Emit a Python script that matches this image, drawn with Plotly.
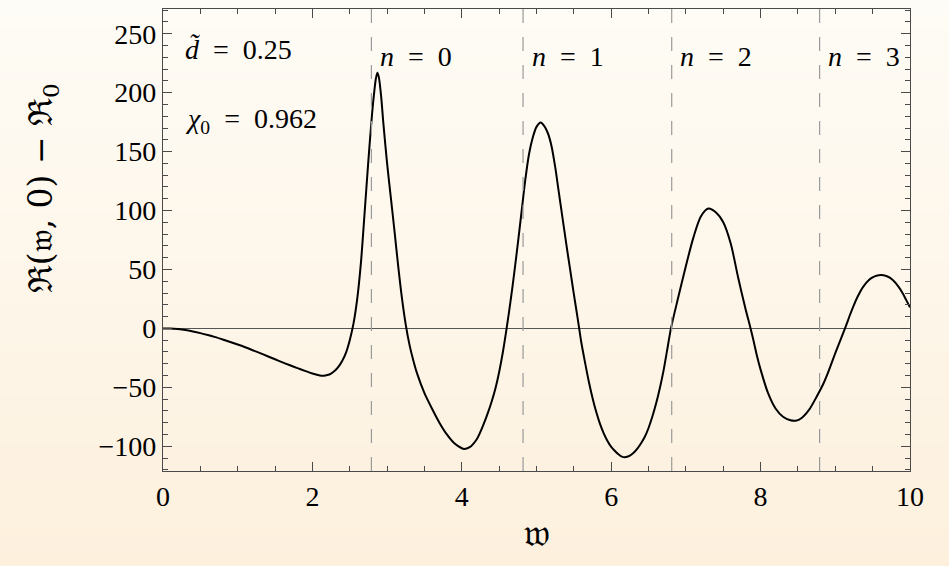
import plotly.graph_objects as go

# Response curve R(w,0) - R0, sampled along w
w_vals = [0.0, 0.1, 0.2, 0.3, 0.4, 0.5, 0.6, 0.7, 0.8, 0.9, 1.0, 1.1, 1.2, 1.3,
          1.4, 1.5, 1.6, 1.7, 1.8, 1.9, 2.0, 2.1, 2.15, 2.2, 2.25, 2.3, 2.35,
          2.4, 2.45, 2.5, 2.55, 2.6, 2.65, 2.7, 2.75, 2.8, 2.83, 2.85, 2.87,
          2.89, 2.92, 2.95, 3.0, 3.05, 3.1, 3.15, 3.2, 3.25, 3.3, 3.35, 3.4,
          3.5, 3.6, 3.7, 3.8, 3.9, 4.0, 4.03, 4.1, 4.2, 4.3, 4.35, 4.4, 4.45,
          4.5, 4.55, 4.6, 4.65, 4.7, 4.75, 4.8, 4.85, 4.9, 4.95, 5.0, 5.056,
          5.1, 5.15, 5.2, 5.25, 5.3, 5.35, 5.4, 5.45, 5.5, 5.55, 5.6, 5.65,
          5.7, 5.75, 5.8, 5.85, 5.9, 5.95, 6.0, 6.05, 6.1, 6.15, 6.2, 6.25,
          6.3, 6.35, 6.4, 6.45, 6.5, 6.55, 6.6, 6.65, 6.7, 6.75, 6.8, 6.9, 7.0,
          7.1, 7.2, 7.3, 7.4, 7.5, 7.6, 7.7, 7.8, 7.85, 7.9, 7.95, 8.0, 8.1,
          8.2, 8.3, 8.4, 8.47, 8.55, 8.65, 8.75, 8.84, 8.9, 9.0, 9.13, 9.2,
          9.25, 9.3, 9.37, 9.45, 9.5, 9.55, 9.62, 9.7, 9.77, 9.85, 9.9, 9.95,
          10.0]
r_vals = [0.0, -0.1, -0.6, -1.4, -2.6, -4.0, -5.6, -7.4, -9.4, -11.5, -13.7,
          -16.0, -18.5, -21.0, -23.6, -26.2, -28.8, -31.3, -33.7, -36.0, -38.3,
          -40.0, -40.2, -39.6, -38.3, -36.0, -32.5, -27.5, -20.5, -10.0, 4.0,
          25.0, 56.0, 99.0, 143.0, 183.0, 202.0, 212.0, 217.0, 213.0, 197.0,
          174.0, 140.0, 111.0, 82.0, 52.0, 25.0, 3.0, -14.0, -27.0, -38.0,
          -55.0, -68.0, -80.0, -90.0, -97.5, -101.7, -102.3, -101.0, -94.0,
          -80.0, -71.5, -62.0, -51.0, -37.0, -20.0, 0.0, 22.0, 46.0, 72.0,
          99.0, 126.0, 148.0, 162.0, 171.0, 174.6, 172.0, 166.0, 155.0, 137.0,
          115.0, 93.0, 71.0, 50.0, 29.0, 9.0, -12.0, -29.0, -45.0, -59.0,
          -71.0, -81.0, -89.0, -95.5, -100.5, -104.0, -107.0, -109.0, -109.2,
          -108.0, -105.5, -102.0, -97.5, -92.0, -84.5, -75.0, -64.0, -51.0,
          -36.0, -18.0, 0.0, 27.0, 53.0, 77.0, 95.0, 101.7, 98.5, 90.0, 72.0,
          43.0, 16.0, 4.0, -9.0, -23.0, -35.0, -55.0, -68.0, -75.0, -78.0,
          -78.3, -76.0, -69.0, -58.0, -47.0, -38.0, -21.0, 0.0, 12.0, 20.0,
          27.0, 35.0, 41.0, 43.2, 44.6, 45.2, 44.0, 41.0, 35.0, 30.0, 24.0,
          17.8]

# Mode thresholds (dashed markers) and their labels
mode_w = [2.79, 4.82, 6.81, 8.79]
mode_labels = ["<i>n</i>  =  0", "<i>n</i>  =  1", "<i>n</i>  =  2",
               "<i>n</i>  =  3"]

x_ticks = [0, 2, 4, 6, 8, 10]
y_ticks = [-100, -50, 0, 50, 100, 150, 200, 250]

serif = "Liberation Serif, Times New Roman, serif"
fraktur = "DejaVu Serif, serif"

fig = go.Figure()
fig.add_trace(go.Scatter(
    x=w_vals, y=r_vals, mode="lines",
    line=dict(color="black", width=2, shape="spline", smoothing=0.8),
    hoverinfo="skip", showlegend=False,
))

shapes = []
# vertical warm gradient behind everything
n_strips = 80
top_c = (254, 252, 246)
bot_c = (253, 240, 221)
y_lo, y_hi = -95 / 462, 1 + 9 / 462
for i in range(n_strips):
    t = i / (n_strips - 1)
    c = tuple(round(top_c[k] + (bot_c[k] - top_c[k]) * t) for k in range(3))
    y1 = y_hi - (y_hi - y_lo) * i / n_strips
    y0 = y_hi - (y_hi - y_lo) * (i + 1) / n_strips
    shapes.append(dict(type="rect", xref="paper", yref="paper",
                       x0=-163 / 747, x1=1 + 39 / 747, y0=y0 - 0.002, y1=y1 + 0.002,
                       fillcolor="rgb(%d,%d,%d)" % c, line=dict(width=0),
                       layer="below"))

for wv in mode_w:
    shapes.append(dict(type="line", xref="x", yref="y domain", x0=wv, x1=wv,
                       y0=0, y1=1, line=dict(color="#9a9a9a", width=1.2,
                                             dash="14px,14px"),
                       layer="above"))

label_font = dict(family=serif, size=28, color="black")
annotations = [
    dict(x=0.27, y=237, xref="x", yref="y", xanchor="left", yanchor="middle",
         text="<i>d̃</i>  =  0.25", showarrow=False, font=label_font),
    dict(x=0.27, y=176, xref="x", yref="y", xanchor="left", yanchor="middle",
         text="<i>χ</i><sub>0</sub>  =  0.962", showarrow=False,
         font=label_font),
    # y-axis title
    dict(x=-0.162, y=0.612, xref="paper", yref="paper", xanchor="center",
         yanchor="middle", textangle=-90, showarrow=False,
         text="ℜ(𝔴, 0) − ℜ<sub>0</sub>",
         font=dict(family=fraktur, size=33, color="black")),
]
for wv, lab in zip(mode_w, mode_labels):
    annotations.append(dict(x=wv + 0.09, y=231, xref="x", yref="y",
                            xanchor="left", yanchor="middle", text=lab,
                            showarrow=False, font=label_font))

axis_common = dict(
    showline=True, linecolor="#4a4a4a", linewidth=1.3, mirror="allticks",
    ticks="inside", ticklen=9, tickwidth=1.1, tickcolor="#4a4a4a",
    showgrid=False, tickfont=dict(family=serif, size=28, color="black"),
)

fig.update_layout(
    width=949, height=566,
    margin=dict(l=163, r=39, t=9, b=95),
    paper_bgcolor="rgba(0,0,0,0)", plot_bgcolor="rgba(0,0,0,0)",
    shapes=shapes, annotations=annotations,
    xaxis=dict(range=[0, 10], tickvals=x_ticks, zeroline=False,
               minor=dict(ticks="inside", dtick=0.5, ticklen=5,
                          tickcolor="#4a4a4a", tickwidth=1.1),
               title=dict(text="𝔴", font=dict(family=fraktur, size=38,
                                                color="black"),
                          standoff=8),
               **axis_common),
    yaxis=dict(range=[-121, 271], tickvals=y_ticks, zeroline=True,
               zerolinecolor="#555555", zerolinewidth=1.2,
               minor=dict(ticks="inside", dtick=10, ticklen=5,
                          tickcolor="#4a4a4a", tickwidth=1.1),
               **axis_common),
)

fig.write_html("out.html")
